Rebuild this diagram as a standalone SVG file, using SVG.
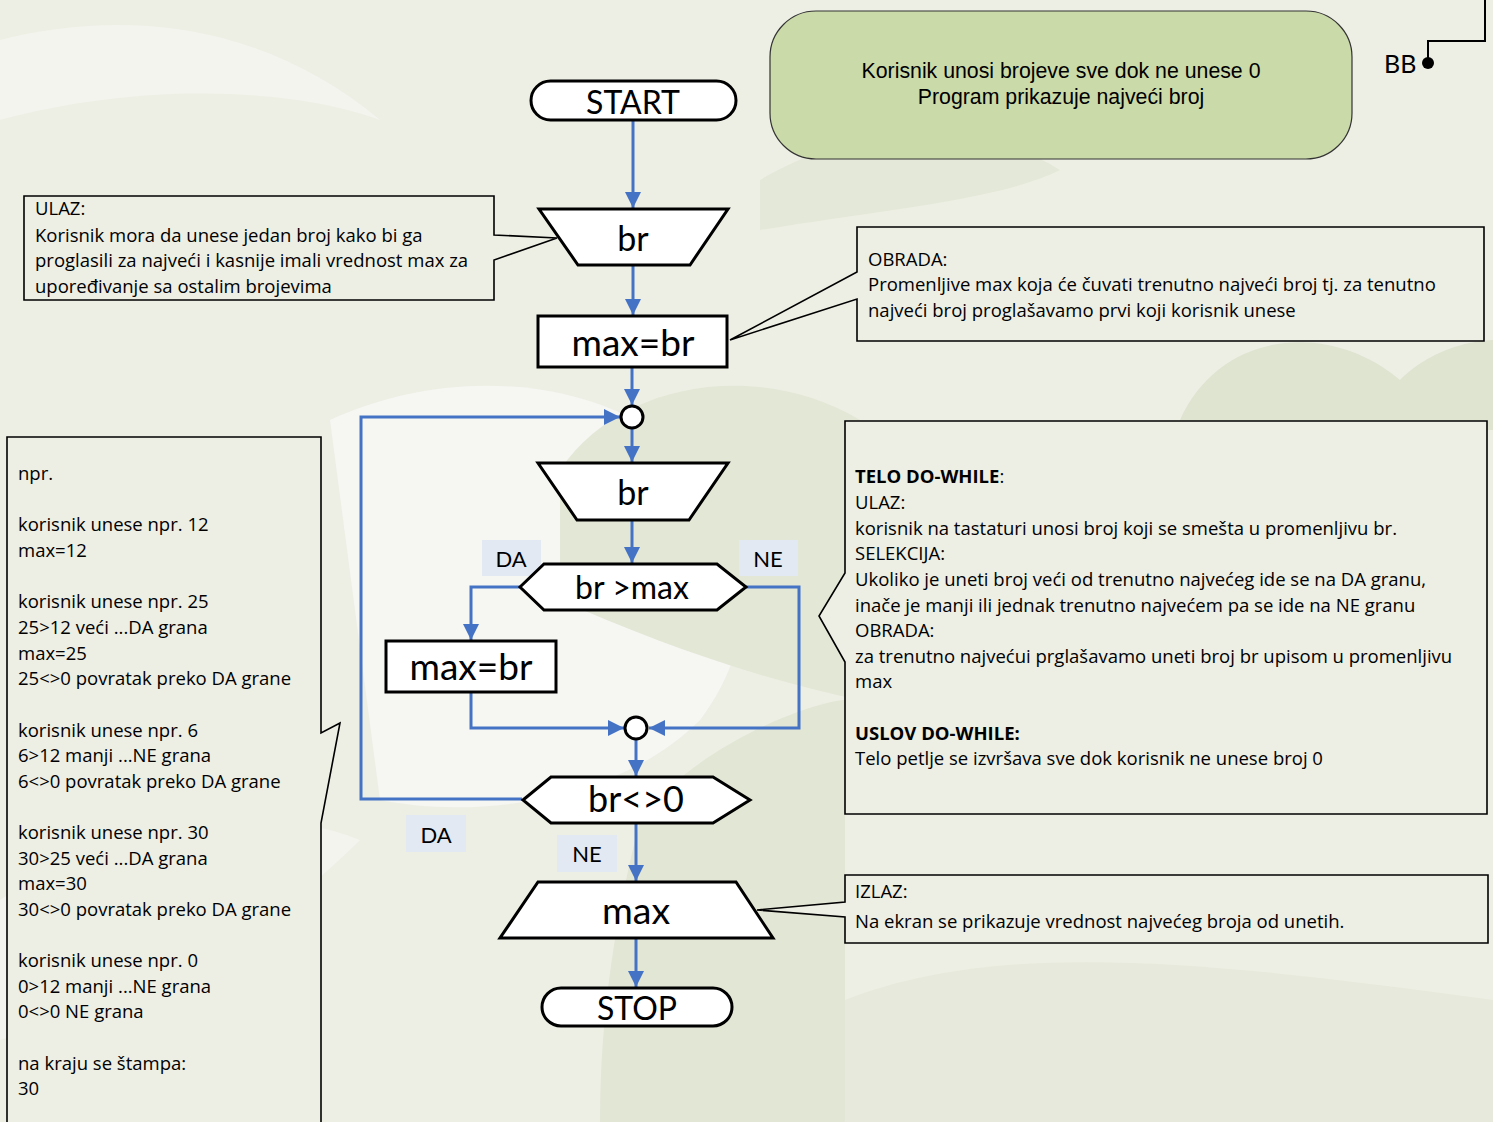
<svg xmlns="http://www.w3.org/2000/svg" width="1493" height="1122" viewBox="0 0 1493 1122">
<style>
.shape{fill:#ffffff;stroke:#000000;stroke-width:3;stroke-linejoin:miter}
.conn{fill:none;stroke:#4472C4;stroke-width:3}
.callout{fill:#EDEEE4;stroke:#000000;stroke-width:1.6}
.big{font-family:Lato,"Open Sans",sans-serif;fill:#000;text-anchor:middle;dominant-baseline:central}
.lbl{font-family:Lato,"Open Sans",sans-serif;font-size:22px;fill:#000;text-anchor:middle;dominant-baseline:central}
.lblbg{fill:#E3E9F3}
.note{font-family:"Open Sans",Lato,sans-serif;font-size:18.5px;fill:#000}
.note2{font-family:"Open Sans",Lato,sans-serif;font-size:18.5px;fill:#000}
.b{font-weight:bold}
</style>
<defs>
<marker id="arr" markerUnits="userSpaceOnUse" markerWidth="18" markerHeight="16" refX="16" refY="8" orient="auto">
<path d="M0,0 L16,8 L0,16 Z" fill="#4472C4"/>
</marker>
</defs>
<!-- background -->
<rect x="0" y="0" width="1493" height="1122" fill="#EDEFE4"/>
<g id="background">
<path d="M0,40 C120,10 260,20 380,120 C300,90 150,80 0,120 Z" fill="#F3F4EE"/>
<path d="M330,420 C460,360 620,380 700,470 C760,540 760,640 700,720 C620,800 480,820 380,800 Z" fill="#F6F6F3"/>
<path d="M0,900 C120,820 260,800 360,840 C300,900 200,980 0,1040 Z" fill="#F3F4EE"/>
<path d="M560,470 C620,380 760,360 860,420 L860,700 C760,680 650,640 560,600 Z" fill="#E3E7D6"/>
<path d="M1180,420 C1220,330 1330,320 1400,380 C1440,340 1493,340 1493,340 L1493,430 L1180,430 Z" fill="#DFE4D1"/>
<path d="M640,820 C700,740 820,700 845,700 L845,1122 L600,1122 C600,1000 620,900 640,820 Z" fill="#E2E6D5"/>
<path d="M845,1000 C1000,940 1200,960 1493,1000 L1493,1122 L845,1122 Z" fill="#E6E9DB"/>
<path d="M760,180 C860,120 980,120 1060,170 C1000,200 880,210 760,230 Z" fill="#E4E8D8"/>
</g>

<!-- connectors -->
<g id="connectors">
<line class="conn" x1="633" y1="120" x2="633" y2="208" marker-end="url(#arr)"/>
<line class="conn" x1="633" y1="266" x2="633" y2="315" marker-end="url(#arr)"/>
<line class="conn" x1="632" y1="368" x2="632" y2="405" marker-end="url(#arr)"/>
<line class="conn" x1="632" y1="428" x2="632" y2="462" marker-end="url(#arr)"/>
<line class="conn" x1="632" y1="521" x2="632" y2="563" marker-end="url(#arr)"/>
<polyline class="conn" points="520,587 471,587 471,640" marker-end="url(#arr)"/>
<polyline class="conn" points="746,587 799,587 799,728 649,728" marker-end="url(#arr)"/>
<polyline class="conn" points="471,693 471,728 624,728" marker-end="url(#arr)"/>
<line class="conn" x1="636" y1="740" x2="636" y2="776" marker-end="url(#arr)"/>
<polyline class="conn" points="522,799 361,799 361,417 620,417" marker-end="url(#arr)"/>
<line class="conn" x1="636" y1="823" x2="636" y2="881" marker-end="url(#arr)"/>
<line class="conn" x1="636" y1="939" x2="636" y2="987" marker-end="url(#arr)"/>
</g>

<!-- edge labels -->
<g id="label-da1"><rect class="lblbg" x="482" y="540" width="59" height="36"/><text class="lbl" x="511" y="558">DA</text></g>
<g id="label-ne1"><rect class="lblbg" x="739" y="540" width="59" height="36"/><text class="lbl" x="768" y="558">NE</text></g>
<g id="label-da2"><rect class="lblbg" x="406" y="815" width="60" height="37"/><text class="lbl" x="436" y="834">DA</text></g>
<g id="label-ne2"><rect class="lblbg" x="557" y="835" width="60" height="37"/><text class="lbl" x="587" y="853">NE</text></g>

<!-- flowchart nodes -->
<g id="start"><rect class="shape" x="531" y="81" width="205" height="39" rx="19.5"/><text class="big" x="633" y="101" font-size="32">START</text></g>
<g id="input1"><polygon class="shape" points="539,209 728,209 690,265 578,265"/><text class="big" x="633" y="237" font-size="34">br</text></g>
<g id="assign1"><rect class="shape" x="538" y="316" width="189" height="51"/><text class="big" x="633" y="341" font-size="37">max=br</text></g>
<g id="join1"><circle class="shape" cx="632" cy="417" r="11" stroke-width="2.5"/></g>
<g id="input2"><polygon class="shape" points="538,463 728,463 689,520 577,520"/><text class="big" x="633" y="491" font-size="34">br</text></g>
<g id="decision1"><polygon class="shape" points="520,587 544,564 717,564 746,587 717,610 544,610"/><text class="big" x="632" y="586" font-size="32">br &gt;max</text></g>
<g id="assign2"><rect class="shape" x="386" y="641" width="170" height="51"/><text class="big" x="471" y="665" font-size="37">max=br</text></g>
<g id="join2"><circle class="shape" cx="636" cy="728" r="11" stroke-width="2.5"/></g>
<g id="decision2"><polygon class="shape" points="523,800 551,777 713,777 750,800 713,823 551,823"/><text class="big" x="636" y="798" font-size="36">br&lt;&gt;0</text></g>
<g id="output"><polygon class="shape" points="538,882 736,882 773,938 500,938"/><text class="big" x="636" y="909" font-size="37.5">max</text></g>
<g id="stop"><rect class="shape" x="542" y="988" width="190" height="38" rx="19"/><text class="big" x="637" y="1007" font-size="32">STOP</text></g>

<!-- title box -->
<g id="title">
<rect x="770" y="11" width="582" height="148" rx="46" fill="#CBDAA9" stroke="#333" stroke-width="1.2"/>
<text x="1061" y="78" font-family="'Liberation Sans',Arial,sans-serif" font-size="21.3" text-anchor="middle">Korisnik unosi brojeve sve dok ne unese 0</text>
<text x="1061" y="104" font-family="'Liberation Sans',Arial,sans-serif" font-size="21.3" text-anchor="middle">Program prikazuje najveći broj</text>
</g>

<!-- BB connector -->
<g id="bb">
<polyline points="1428,62 1428,41 1485,41 1485,0" fill="none" stroke="#000" stroke-width="2"/>
<circle cx="1428" cy="63" r="6" fill="#000"/>
<text x="1384" y="73" font-family="Lato,'Open Sans',sans-serif" font-size="25" fill="#000">BB</text>
</g>

<!-- ULAZ callout -->
<g id="note-ulaz">
<path class="callout" d="M24,196 L494,196 L494,235 L557,238 L494,260 L494,300 L24,300 Z"/>
<text class="note" x="35" y="215">ULAZ:</text>
<text class="note" x="35" y="242">Korisnik mora da unese jedan broj kako bi ga</text>
<text class="note" x="35" y="267">proglasili za najveći i kasnije imali vrednost max za</text>
<text class="note" x="35" y="293">upoređivanje sa ostalim brojevima</text>
</g>

<!-- OBRADA callout -->
<g id="note-obrada">
<path class="callout" d="M857,227 L1484,227 L1484,341 L857,341 L857,299 L730,340 L857,272 Z"/>
<text class="note" x="868" y="266">OBRADA:</text>
<text class="note" x="868" y="291">Promenljive max koja će čuvati trenutno najveći broj tj. za tenutno</text>
<text class="note" x="868" y="317">najveći broj proglašavamo prvi koji korisnik unese</text>
</g>

<!-- TELO DO-WHILE callout -->
<g id="note-telo">
<path class="callout" d="M845,421 L1487,421 L1487,814 L845,814 L845,662 L819,616 L845,573 Z"/>
<text class="note" x="855" y="483"><tspan class="b">TELO DO-WHILE</tspan>:</text>
<text class="note" x="855" y="509">ULAZ:</text>
<text class="note" x="855" y="535">korisnik na tastaturi unosi broj koji se smešta u promenljivu br.</text>
<text class="note" x="855" y="560">SELEKCIJA:</text>
<text class="note" x="855" y="586">Ukoliko je uneti broj veći od trenutno najvećeg ide se na DA granu,</text>
<text class="note" x="855" y="612">inače je manji ili jednak trenutno najvećem pa se ide na NE granu</text>
<text class="note" x="855" y="637">OBRADA:</text>
<text class="note" x="855" y="663">za trenutno najvećui prglašavamo uneti broj br upisom u promenljivu</text>
<text class="note" x="855" y="688">max</text>
<text class="note b" x="855" y="740">USLOV DO-WHILE:</text>
<text class="note" x="855" y="765">Telo petlje se izvršava sve dok korisnik ne unese broj 0</text>
</g>

<!-- IZLAZ callout -->
<g id="note-izlaz">
<path class="callout" d="M845,875 L1488,875 L1488,943 L845,943 L845,917 L757,910 L845,902 Z"/>
<text class="note" x="855" y="898">IZLAZ:</text>
<text class="note" x="855" y="928">Na ekran se prikazuje vrednost najvećeg broja od unetih.</text>
</g>

<!-- example callout -->
<g id="note-primer">
<path class="callout" d="M7,437 L321,437 L321,733 L340,723 L321,823 L321,1130 L7,1130 Z"/>
<text class="note2" x="18" y="480">npr.</text>
<text class="note2" x="18" y="531">korisnik unese npr. 12</text>
<text class="note2" x="18" y="557">max=12</text>
<text class="note2" x="18" y="608">korisnik unese npr. 25</text>
<text class="note2" x="18" y="634">25&gt;12 veći ...DA grana</text>
<text class="note2" x="18" y="660">max=25</text>
<text class="note2" x="18" y="685">25&lt;&gt;0 povratak preko DA grane</text>
<text class="note2" x="18" y="737">korisnik unese npr. 6</text>
<text class="note2" x="18" y="762">6&gt;12 manji ...NE grana</text>
<text class="note2" x="18" y="788">6&lt;&gt;0 povratak preko DA grane</text>
<text class="note2" x="18" y="839">korisnik unese npr. 30</text>
<text class="note2" x="18" y="865">30&gt;25 veći ...DA grana</text>
<text class="note2" x="18" y="890">max=30</text>
<text class="note2" x="18" y="916">30&lt;&gt;0 povratak preko DA grane</text>
<text class="note2" x="18" y="967">korisnik unese npr. 0</text>
<text class="note2" x="18" y="993">0&gt;12 manji ...NE grana</text>
<text class="note2" x="18" y="1018">0&lt;&gt;0 NE grana</text>
<text class="note2" x="18" y="1070">na kraju se štampa:</text>
<text class="note2" x="18" y="1095">30</text>
</g>
</svg>
